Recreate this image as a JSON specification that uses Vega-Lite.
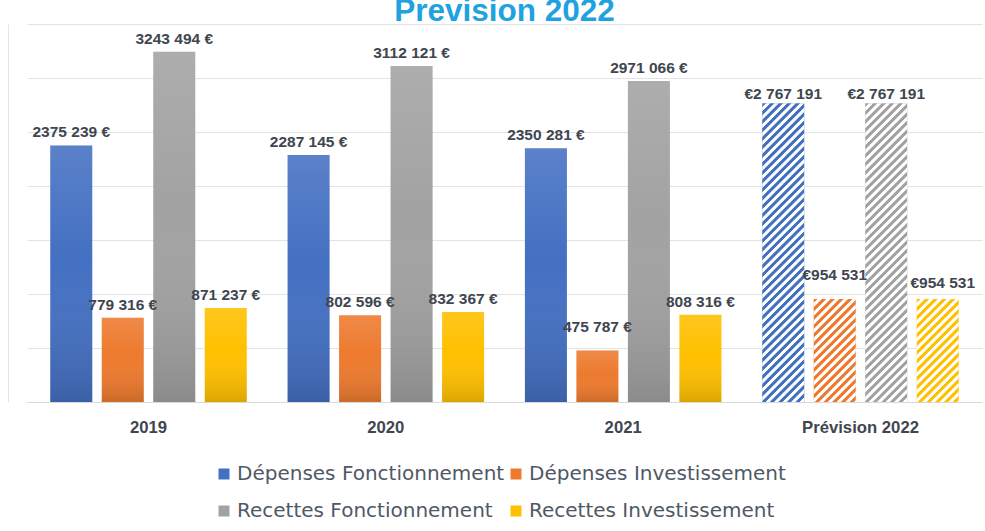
{
  "$schema": "https://vega.github.io/schema/vega-lite/v6.json",
  "width": 955,
  "height": 378,
  "autosize": {"type": "none"},
  "padding": {"left": 27, "top": 24, "right": 3, "bottom": 129},
  "background": "#ffffff",
  "title": {
    "text": "Prevision 2022",
    "font": "Liberation Sans",
    "fontSize": 31.5,
    "fontWeight": "bold",
    "color": "#1fa3e0",
    "anchor": "middle",
    "frame": "group",
    "baseline": "alphabetic",
    "offset": 2,
    "dy": 30
  },
  "data": {
    "values": [
      {"year": "2019", "serie": "Dépenses Fonctionnement", "value": 2375239, "label": "2375 239 €"},
      {"year": "2019", "serie": "Dépenses Investissement", "value": 779316, "label": "779 316 €"},
      {"year": "2019", "serie": "Recettes Fonctionnement", "value": 3243494, "label": "3243 494 €"},
      {"year": "2019", "serie": "Recettes Investissement", "value": 871237, "label": "871 237 €"},
      {"year": "2020", "serie": "Dépenses Fonctionnement", "value": 2287145, "label": "2287 145 €"},
      {"year": "2020", "serie": "Dépenses Investissement", "value": 802596, "label": "802 596 €"},
      {"year": "2020", "serie": "Recettes Fonctionnement", "value": 3112121, "label": "3112 121 €"},
      {"year": "2020", "serie": "Recettes Investissement", "value": 832367, "label": "832 367 €"},
      {"year": "2021", "serie": "Dépenses Fonctionnement", "value": 2350281, "label": "2350 281 €"},
      {"year": "2021", "serie": "Dépenses Investissement", "value": 475787, "label": "475 787 €"},
      {"year": "2021", "serie": "Recettes Fonctionnement", "value": 2971066, "label": "2971 066 €"},
      {"year": "2021", "serie": "Recettes Investissement", "value": 808316, "label": "808 316 €"},
      {"year": "Prévision 2022", "serie": "Dépenses Fonctionnement", "value": 2767191, "label": "€2 767 191"},
      {"year": "Prévision 2022", "serie": "Dépenses Investissement", "value": 954531, "label": "€954 531"},
      {"year": "Prévision 2022", "serie": "Recettes Fonctionnement", "value": 2767191, "label": "€2 767 191"},
      {"year": "Prévision 2022", "serie": "Recettes Investissement", "value": 954531, "label": "€954 531"}
    ]
  },
  "encoding": {
    "x": {
      "field": "year",
      "type": "nominal",
      "scale": {"domain": ["2019", "2020", "2021", "Prévision 2022"], "paddingInner": 0.132, "paddingOuter": 0.078},
      "axis": {
        "title": null,
        "labelAngle": 0,
        "ticks": false,
        "grid": false,
        "domainColor": "#d9d9d9",
        "labelFont": "Liberation Sans",
        "labelFontWeight": "bold",
        "labelFontSize": 16.7,
        "labelColor": "#404650",
        "labelPadding": 17.5
      }
    },
    "xOffset": {
      "field": "serie",
      "type": "nominal",
      "scale": {"domain": ["Dépenses Fonctionnement", "Dépenses Investissement", "Recettes Fonctionnement", "Recettes Investissement"], "paddingInner": 0.184, "paddingOuter": 0.092}
    },
    "y": {
      "field": "value",
      "type": "quantitative",
      "scale": {"domain": [0, 3500000], "nice": false},
      "axis": {
        "title": null,
        "values": [0, 500000, 1000000, 1500000, 2000000, 2500000, 3000000, 3500000],
        "labels": false,
        "ticks": false,
        "domain": true,
        "domainColor": "#e6e6e6",
        "offset": 19,
        "grid": true,
        "gridColor": "#e3e3e3"
      }
    }
  },
  "layer": [
    {
      "mark": {"type": "bar"},
      "encoding": {
        "color": {
          "field": "serie",
          "type": "nominal",
          "scale": {
            "domain": ["Dépenses Fonctionnement", "Dépenses Investissement", "Recettes Fonctionnement", "Recettes Investissement"],
            "range": ["#4470c2", "#ed7a2e", "#a2a2a2", "#ffc000"]
          },
          "legend": {
            "title": null,
            "orient": "none",
            "legendX": 187,
            "legendY": 440,
            "direction": "horizontal",
            "columns": 2,
            "symbolType": "square",
            "symbolSize": 121,
            "symbolStrokeWidth": 0,
            "labelFont": "DejaVu Sans",
            "labelFontSize": 20,
            "labelColor": "#505866",
            "labelLimit": 0,
            "labelOffset": 3,
            "columnPadding": 1,
            "rowPadding": 17
          }
        }
      }
    },
    {
      "transform": [{"filter": "datum.year != 'Prévision 2022'"}],
      "mark": {
        "type": "bar",
        "fill": {
          "gradient": "linear", "x1": 0, "y1": 0, "x2": 0, "y2": 1,
          "stops": [
            {"offset": 0, "color": "rgba(255,255,255,0.12)"},
            {"offset": 0.45, "color": "rgba(255,255,255,0)"},
            {"offset": 1, "color": "rgba(0,0,0,0.14)"}
          ]
        }
      }
    },
    {
      "transform": [{"filter": "datum.year == 'Prévision 2022' && datum.value > 2000000"}],
      "mark": {
        "type": "bar",
        "fill": {
          "gradient": "linear", "x1": 0, "y1": 0, "x2": 0.15716, "y2": 1.11843,
          "stops": [
            {"offset": 0, "color": "rgba(255,255,255,0)"}, {"offset": 0.01, "color": "rgba(255,255,255,0)"}, {"offset": 0.0125, "color": "#ffffff"}, {"offset": 0.0225, "color": "#ffffff"},
            {"offset": 0.025, "color": "rgba(255,255,255,0)"}, {"offset": 0.035, "color": "rgba(255,255,255,0)"}, {"offset": 0.0375, "color": "#ffffff"}, {"offset": 0.0475, "color": "#ffffff"},
            {"offset": 0.05, "color": "rgba(255,255,255,0)"}, {"offset": 0.06, "color": "rgba(255,255,255,0)"}, {"offset": 0.0625, "color": "#ffffff"}, {"offset": 0.0725, "color": "#ffffff"},
            {"offset": 0.075, "color": "rgba(255,255,255,0)"}, {"offset": 0.085, "color": "rgba(255,255,255,0)"}, {"offset": 0.0875, "color": "#ffffff"}, {"offset": 0.0975, "color": "#ffffff"},
            {"offset": 0.1, "color": "rgba(255,255,255,0)"}, {"offset": 0.11, "color": "rgba(255,255,255,0)"}, {"offset": 0.1125, "color": "#ffffff"}, {"offset": 0.1225, "color": "#ffffff"},
            {"offset": 0.125, "color": "rgba(255,255,255,0)"}, {"offset": 0.135, "color": "rgba(255,255,255,0)"}, {"offset": 0.1375, "color": "#ffffff"}, {"offset": 0.1475, "color": "#ffffff"},
            {"offset": 0.15, "color": "rgba(255,255,255,0)"}, {"offset": 0.16, "color": "rgba(255,255,255,0)"}, {"offset": 0.1625, "color": "#ffffff"}, {"offset": 0.1725, "color": "#ffffff"},
            {"offset": 0.175, "color": "rgba(255,255,255,0)"}, {"offset": 0.185, "color": "rgba(255,255,255,0)"}, {"offset": 0.1875, "color": "#ffffff"}, {"offset": 0.1975, "color": "#ffffff"},
            {"offset": 0.2, "color": "rgba(255,255,255,0)"}, {"offset": 0.21, "color": "rgba(255,255,255,0)"}, {"offset": 0.2125, "color": "#ffffff"}, {"offset": 0.2225, "color": "#ffffff"},
            {"offset": 0.225, "color": "rgba(255,255,255,0)"}, {"offset": 0.235, "color": "rgba(255,255,255,0)"}, {"offset": 0.2375, "color": "#ffffff"}, {"offset": 0.2475, "color": "#ffffff"},
            {"offset": 0.25, "color": "rgba(255,255,255,0)"}, {"offset": 0.26, "color": "rgba(255,255,255,0)"}, {"offset": 0.2625, "color": "#ffffff"}, {"offset": 0.2725, "color": "#ffffff"},
            {"offset": 0.275, "color": "rgba(255,255,255,0)"}, {"offset": 0.285, "color": "rgba(255,255,255,0)"}, {"offset": 0.2875, "color": "#ffffff"}, {"offset": 0.2975, "color": "#ffffff"},
            {"offset": 0.3, "color": "rgba(255,255,255,0)"}, {"offset": 0.31, "color": "rgba(255,255,255,0)"}, {"offset": 0.3125, "color": "#ffffff"}, {"offset": 0.3225, "color": "#ffffff"},
            {"offset": 0.325, "color": "rgba(255,255,255,0)"}, {"offset": 0.335, "color": "rgba(255,255,255,0)"}, {"offset": 0.3375, "color": "#ffffff"}, {"offset": 0.3475, "color": "#ffffff"},
            {"offset": 0.35, "color": "rgba(255,255,255,0)"}, {"offset": 0.36, "color": "rgba(255,255,255,0)"}, {"offset": 0.3625, "color": "#ffffff"}, {"offset": 0.3725, "color": "#ffffff"},
            {"offset": 0.375, "color": "rgba(255,255,255,0)"}, {"offset": 0.385, "color": "rgba(255,255,255,0)"}, {"offset": 0.3875, "color": "#ffffff"}, {"offset": 0.3975, "color": "#ffffff"},
            {"offset": 0.4, "color": "rgba(255,255,255,0)"}, {"offset": 0.41, "color": "rgba(255,255,255,0)"}, {"offset": 0.4125, "color": "#ffffff"}, {"offset": 0.4225, "color": "#ffffff"},
            {"offset": 0.425, "color": "rgba(255,255,255,0)"}, {"offset": 0.435, "color": "rgba(255,255,255,0)"}, {"offset": 0.4375, "color": "#ffffff"}, {"offset": 0.4475, "color": "#ffffff"},
            {"offset": 0.45, "color": "rgba(255,255,255,0)"}, {"offset": 0.46, "color": "rgba(255,255,255,0)"}, {"offset": 0.4625, "color": "#ffffff"}, {"offset": 0.4725, "color": "#ffffff"},
            {"offset": 0.475, "color": "rgba(255,255,255,0)"}, {"offset": 0.485, "color": "rgba(255,255,255,0)"}, {"offset": 0.4875, "color": "#ffffff"}, {"offset": 0.4975, "color": "#ffffff"},
            {"offset": 0.5, "color": "rgba(255,255,255,0)"}, {"offset": 0.51, "color": "rgba(255,255,255,0)"}, {"offset": 0.5125, "color": "#ffffff"}, {"offset": 0.5225, "color": "#ffffff"},
            {"offset": 0.525, "color": "rgba(255,255,255,0)"}, {"offset": 0.535, "color": "rgba(255,255,255,0)"}, {"offset": 0.5375, "color": "#ffffff"}, {"offset": 0.5475, "color": "#ffffff"},
            {"offset": 0.55, "color": "rgba(255,255,255,0)"}, {"offset": 0.56, "color": "rgba(255,255,255,0)"}, {"offset": 0.5625, "color": "#ffffff"}, {"offset": 0.5725, "color": "#ffffff"},
            {"offset": 0.575, "color": "rgba(255,255,255,0)"}, {"offset": 0.585, "color": "rgba(255,255,255,0)"}, {"offset": 0.5875, "color": "#ffffff"}, {"offset": 0.5975, "color": "#ffffff"},
            {"offset": 0.6, "color": "rgba(255,255,255,0)"}, {"offset": 0.61, "color": "rgba(255,255,255,0)"}, {"offset": 0.6125, "color": "#ffffff"}, {"offset": 0.6225, "color": "#ffffff"},
            {"offset": 0.625, "color": "rgba(255,255,255,0)"}, {"offset": 0.635, "color": "rgba(255,255,255,0)"}, {"offset": 0.6375, "color": "#ffffff"}, {"offset": 0.6475, "color": "#ffffff"},
            {"offset": 0.65, "color": "rgba(255,255,255,0)"}, {"offset": 0.66, "color": "rgba(255,255,255,0)"}, {"offset": 0.6625, "color": "#ffffff"}, {"offset": 0.6725, "color": "#ffffff"},
            {"offset": 0.675, "color": "rgba(255,255,255,0)"}, {"offset": 0.685, "color": "rgba(255,255,255,0)"}, {"offset": 0.6875, "color": "#ffffff"}, {"offset": 0.6975, "color": "#ffffff"},
            {"offset": 0.7, "color": "rgba(255,255,255,0)"}, {"offset": 0.71, "color": "rgba(255,255,255,0)"}, {"offset": 0.7125, "color": "#ffffff"}, {"offset": 0.7225, "color": "#ffffff"},
            {"offset": 0.725, "color": "rgba(255,255,255,0)"}, {"offset": 0.735, "color": "rgba(255,255,255,0)"}, {"offset": 0.7375, "color": "#ffffff"}, {"offset": 0.7475, "color": "#ffffff"},
            {"offset": 0.75, "color": "rgba(255,255,255,0)"}, {"offset": 0.76, "color": "rgba(255,255,255,0)"}, {"offset": 0.7625, "color": "#ffffff"}, {"offset": 0.7725, "color": "#ffffff"},
            {"offset": 0.775, "color": "rgba(255,255,255,0)"}, {"offset": 0.785, "color": "rgba(255,255,255,0)"}, {"offset": 0.7875, "color": "#ffffff"}, {"offset": 0.7975, "color": "#ffffff"},
            {"offset": 0.8, "color": "rgba(255,255,255,0)"}, {"offset": 0.81, "color": "rgba(255,255,255,0)"}, {"offset": 0.8125, "color": "#ffffff"}, {"offset": 0.8225, "color": "#ffffff"},
            {"offset": 0.825, "color": "rgba(255,255,255,0)"}, {"offset": 0.835, "color": "rgba(255,255,255,0)"}, {"offset": 0.8375, "color": "#ffffff"}, {"offset": 0.8475, "color": "#ffffff"},
            {"offset": 0.85, "color": "rgba(255,255,255,0)"}, {"offset": 0.86, "color": "rgba(255,255,255,0)"}, {"offset": 0.8625, "color": "#ffffff"}, {"offset": 0.8725, "color": "#ffffff"},
            {"offset": 0.875, "color": "rgba(255,255,255,0)"}, {"offset": 0.885, "color": "rgba(255,255,255,0)"}, {"offset": 0.8875, "color": "#ffffff"}, {"offset": 0.8975, "color": "#ffffff"},
            {"offset": 0.9, "color": "rgba(255,255,255,0)"}, {"offset": 0.91, "color": "rgba(255,255,255,0)"}, {"offset": 0.9125, "color": "#ffffff"}, {"offset": 0.9225, "color": "#ffffff"},
            {"offset": 0.925, "color": "rgba(255,255,255,0)"}, {"offset": 0.935, "color": "rgba(255,255,255,0)"}, {"offset": 0.9375, "color": "#ffffff"}, {"offset": 0.9475, "color": "#ffffff"},
            {"offset": 0.95, "color": "rgba(255,255,255,0)"}, {"offset": 0.96, "color": "rgba(255,255,255,0)"}, {"offset": 0.9625, "color": "#ffffff"}, {"offset": 0.9725, "color": "#ffffff"},
            {"offset": 0.975, "color": "rgba(255,255,255,0)"}, {"offset": 0.985, "color": "rgba(255,255,255,0)"}, {"offset": 0.9875, "color": "#ffffff"}, {"offset": 0.9975, "color": "#ffffff"},
            {"offset": 1, "color": "rgba(255,255,255,0)"}
          ]
        }
      }
    },
    {
      "transform": [{"filter": "datum.year == 'Prévision 2022' && datum.value < 2000000"}],
      "mark": {
        "type": "bar",
        "fill": {
          "gradient": "linear", "x1": 0, "y1": 0, "x2": 0.49172, "y2": 1.20709,
          "stops": [
            {"offset": 0, "color": "rgba(255,255,255,0)"}, {"offset": 0.024, "color": "rgba(255,255,255,0)"}, {"offset": 0.03, "color": "#ffffff"}, {"offset": 0.054, "color": "#ffffff"},
            {"offset": 0.06, "color": "rgba(255,255,255,0)"}, {"offset": 0.084, "color": "rgba(255,255,255,0)"}, {"offset": 0.09, "color": "#ffffff"}, {"offset": 0.114, "color": "#ffffff"},
            {"offset": 0.12, "color": "rgba(255,255,255,0)"}, {"offset": 0.144, "color": "rgba(255,255,255,0)"}, {"offset": 0.15, "color": "#ffffff"}, {"offset": 0.174, "color": "#ffffff"},
            {"offset": 0.18, "color": "rgba(255,255,255,0)"}, {"offset": 0.204, "color": "rgba(255,255,255,0)"}, {"offset": 0.21, "color": "#ffffff"}, {"offset": 0.234, "color": "#ffffff"},
            {"offset": 0.24, "color": "rgba(255,255,255,0)"}, {"offset": 0.264, "color": "rgba(255,255,255,0)"}, {"offset": 0.27, "color": "#ffffff"}, {"offset": 0.294, "color": "#ffffff"},
            {"offset": 0.3, "color": "rgba(255,255,255,0)"}, {"offset": 0.324, "color": "rgba(255,255,255,0)"}, {"offset": 0.33, "color": "#ffffff"}, {"offset": 0.354, "color": "#ffffff"},
            {"offset": 0.36, "color": "rgba(255,255,255,0)"}, {"offset": 0.384, "color": "rgba(255,255,255,0)"}, {"offset": 0.39, "color": "#ffffff"}, {"offset": 0.414, "color": "#ffffff"},
            {"offset": 0.42, "color": "rgba(255,255,255,0)"}, {"offset": 0.444, "color": "rgba(255,255,255,0)"}, {"offset": 0.45, "color": "#ffffff"}, {"offset": 0.474, "color": "#ffffff"},
            {"offset": 0.48, "color": "rgba(255,255,255,0)"}, {"offset": 0.504, "color": "rgba(255,255,255,0)"}, {"offset": 0.51, "color": "#ffffff"}, {"offset": 0.534, "color": "#ffffff"},
            {"offset": 0.54, "color": "rgba(255,255,255,0)"}, {"offset": 0.564, "color": "rgba(255,255,255,0)"}, {"offset": 0.57, "color": "#ffffff"}, {"offset": 0.594, "color": "#ffffff"},
            {"offset": 0.6, "color": "rgba(255,255,255,0)"}, {"offset": 0.624, "color": "rgba(255,255,255,0)"}, {"offset": 0.63, "color": "#ffffff"}, {"offset": 0.654, "color": "#ffffff"},
            {"offset": 0.66, "color": "rgba(255,255,255,0)"}, {"offset": 0.684, "color": "rgba(255,255,255,0)"}, {"offset": 0.69, "color": "#ffffff"}, {"offset": 0.714, "color": "#ffffff"},
            {"offset": 0.72, "color": "rgba(255,255,255,0)"}, {"offset": 0.744, "color": "rgba(255,255,255,0)"}, {"offset": 0.75, "color": "#ffffff"}, {"offset": 0.774, "color": "#ffffff"},
            {"offset": 0.78, "color": "rgba(255,255,255,0)"}, {"offset": 0.804, "color": "rgba(255,255,255,0)"}, {"offset": 0.81, "color": "#ffffff"}, {"offset": 0.834, "color": "#ffffff"},
            {"offset": 0.84, "color": "rgba(255,255,255,0)"}, {"offset": 0.864, "color": "rgba(255,255,255,0)"}, {"offset": 0.87, "color": "#ffffff"}, {"offset": 0.894, "color": "#ffffff"},
            {"offset": 0.9, "color": "rgba(255,255,255,0)"}, {"offset": 0.924, "color": "rgba(255,255,255,0)"}, {"offset": 0.93, "color": "#ffffff"}, {"offset": 0.954, "color": "#ffffff"},
            {"offset": 0.96, "color": "rgba(255,255,255,0)"}, {"offset": 0.984, "color": "rgba(255,255,255,0)"}, {"offset": 0.99, "color": "#ffffff"}, {"offset": 1, "color": "#ffffff"}
          ]
        }
      }
    },
    {
      "transform": [{"filter": "datum.year != 'Prévision 2022' && datum.value != 475787"}],
      "mark": {"type": "text", "font": "Liberation Sans", "fontSize": 15.5, "fontWeight": "bold", "color": "#404650", "baseline": "alphabetic", "dy": -8},
      "encoding": {"text": {"field": "label", "type": "nominal"}}
    },
    {
      "transform": [{"filter": "datum.value == 475787 || (datum.year == 'Prévision 2022' && datum.serie == 'Dépenses Investissement')"}],
      "mark": {"type": "text", "font": "Liberation Sans", "fontSize": 15.5, "fontWeight": "bold", "color": "#404650", "baseline": "alphabetic", "dy": -19},
      "encoding": {"text": {"field": "label", "type": "nominal"}}
    },
    {
      "transform": [{"filter": "datum.year == 'Prévision 2022' && datum.value > 2000000"}],
      "mark": {"type": "text", "font": "Liberation Sans", "fontSize": 15.5, "fontWeight": "bold", "color": "#404650", "baseline": "alphabetic", "dy": -4},
      "encoding": {"text": {"field": "label", "type": "nominal"}}
    },
    {
      "transform": [{"filter": "datum.year == 'Prévision 2022' && datum.serie == 'Recettes Investissement'"}],
      "mark": {"type": "text", "font": "Liberation Sans", "fontSize": 15.5, "fontWeight": "bold", "color": "#404650", "baseline": "alphabetic", "dy": -11, "dx": 5},
      "encoding": {"text": {"field": "label", "type": "nominal"}}
    }
  ],
  "config": {
    "view": {"stroke": null}
  }
}
